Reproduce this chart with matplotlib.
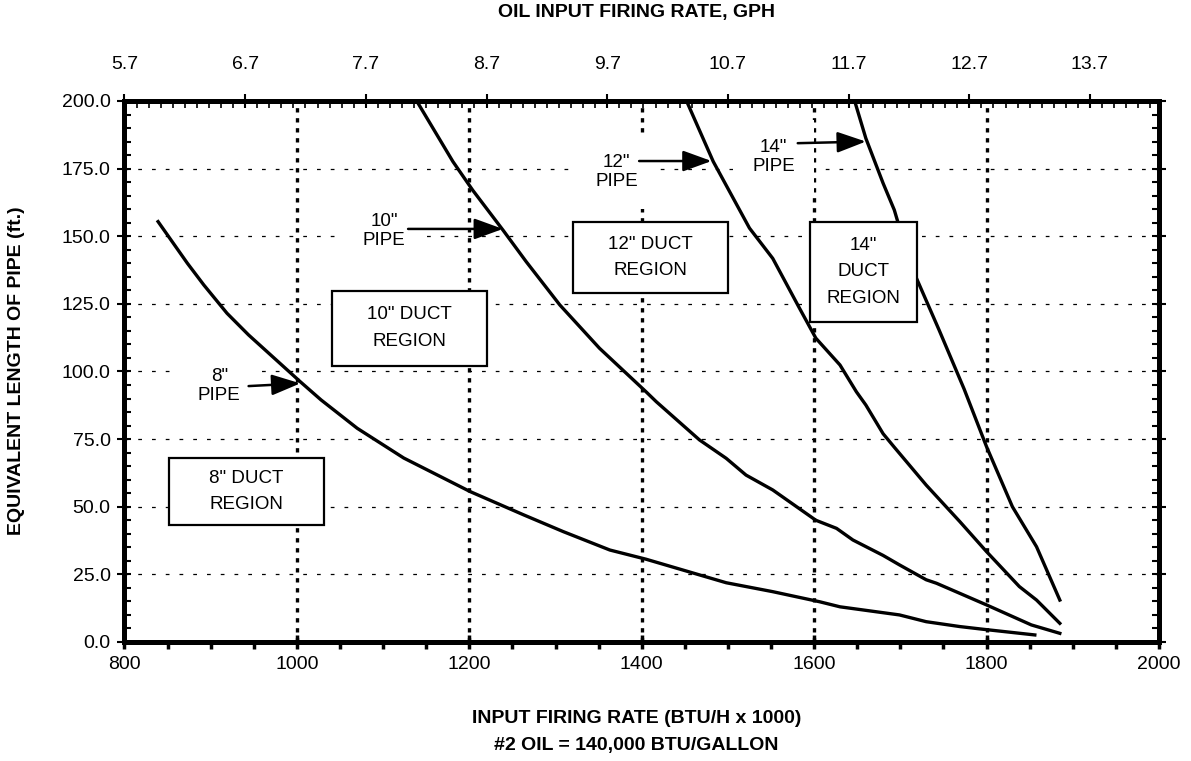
import matplotlib.pyplot as plt
from matplotlib.patches import Rectangle
from matplotlib.ticker import MultipleLocator, FixedLocator, FormatStrFormatter

plt.rcParams['font.family'] = ['Liberation Sans', 'DejaVu Sans']

# curves: input rate (BTU/h x 1000) vs equivalent pipe length (ft)
x8 = [839, 873, 892, 919, 944, 970, 1004, 1028, 1070, 1124, 1201, 1263, 1309, 1363,
      1405, 1498, 1552, 1606, 1630, 1699, 1730, 1769, 1796, 1856]
y8 = [155.4, 140, 132, 121.5, 113.5, 106, 96.2, 89.5, 79, 68, 55.6, 47, 40.8, 34,
      30.6, 21.9, 18.6, 14.9, 13, 10, 7.5, 5.7, 4.7, 2.6]

x10 = [1139, 1181, 1204, 1239, 1266, 1305, 1351, 1405, 1417, 1467, 1498, 1521, 1552,
       1602, 1626, 1645, 1680, 1699, 1730, 1742, 1800, 1852, 1885]
y10 = [200, 177.6, 167, 152.3, 140.6, 124.6, 108.6, 92.5, 88.8, 74.7, 67.9, 61.7, 56.2,
       45, 42, 37.7, 32, 28.5, 23, 21.7, 13.7, 6.3, 3.2]

x12 = [1452, 1483, 1525, 1552, 1583, 1602, 1630, 1649, 1660, 1680, 1693, 1730, 1769,
       1800, 1838, 1858, 1885]
y12 = [200, 177.6, 153, 141.8, 123.4, 112.3, 102.4, 92.5, 87.6, 77, 72, 58, 44.5,
       33.4, 20.5, 15.5, 6.9]

x14 = [1647, 1660, 1680, 1693, 1697, 1718, 1745, 1774, 1800, 1830, 1858, 1885]
y14 = [200, 186.2, 169.6, 159.7, 155.4, 135, 115.3, 93.5, 72.2, 50, 35.2, 15.5]

BTU_PER_GAL = 140  # 140,000 BTU/gallon, x axis is in 1000 BTU/h

fig = plt.figure(figsize=(11.91, 7.61), dpi=100)
ax = fig.add_axes([0.1045, 0.1564, 0.8686, 0.7109])

for xs, ys in [(x8, y8), (x10, y10), (x12, y12), (x14, y14)]:
    ax.plot(xs, ys, color='black', lw=2.4, solid_joinstyle='round', zorder=3)

ax.set_xlim(800, 2000)
ax.set_ylim(0, 200)
ax.xaxis.set_major_locator(MultipleLocator(200))
ax.xaxis.set_minor_locator(MultipleLocator(50))
ax.yaxis.set_major_locator(MultipleLocator(25))
ax.yaxis.set_minor_locator(MultipleLocator(5))
ax.yaxis.set_major_formatter(FormatStrFormatter('%.1f'))

# grid: short dashes across, heavy dots down
ax.grid(axis='y', which='major', color='black', lw=0.9, linestyle=(0, (3, 8)))
ax.grid(axis='x', which='major', color='black', lw=2.4, linestyle=(0, (1.3, 1.7)))

for s in ax.spines.values():
    s.set_linewidth(3.6)

ax.tick_params(axis='x', which='major', direction='inout', length=10, width=2.5,
               labelsize=14, pad=5)
ax.tick_params(axis='x', which='minor', direction='out', length=5, width=2.5)
ax.tick_params(axis='y', which='major', direction='inout', length=10, width=1.5,
               right=True, labelsize=14, pad=5)
ax.tick_params(axis='y', which='minor', direction='in', length=5, width=1.5, right=True)

# top axis in gallons per hour
sec = ax.secondary_xaxis('top', functions=(lambda v: v / BTU_PER_GAL, lambda g: g * BTU_PER_GAL))
g0 = 800 / BTU_PER_GAL
sec.xaxis.set_major_locator(FixedLocator([g0 + k for k in range(9)]))
sec.xaxis.set_minor_locator(FixedLocator([g0 + 0.1 * k for k in range(86)]))
sec.xaxis.set_major_formatter(FormatStrFormatter('%.1f'))
sec.tick_params(which='major', direction='inout', length=10, width=1.5, labelsize=14, pad=15)
sec.tick_params(which='minor', direction='in', length=5, width=1.2)
sec.spines['top'].set_linewidth(3.6)

# region boxes
boxes = [
    ('8" DUCT\nREGION', 851.6, 43.3, 179.7, 24.7),
    ('10" DUCT\nREGION', 1040.6, 102.0, 179.7, 27.9),
    ('12" DUCT\nREGION', 1320, 129.0, 179.7, 26.3),
    ('14"\nDUCT\nREGION', 1594.8, 118.3, 124, 37.0),
]
for label, bx, by, bw, bh in boxes:
    ax.add_patch(Rectangle((bx, by), bw, bh, facecolor='white', edgecolor='black',
                           lw=1.6, zorder=4))
    ax.text(bx + bw / 2, by + bh / 2, label, ha='center', va='center', fontsize=13.5,
            linespacing=1.75, zorder=5)

# pipe labels with arrows
pipes = [
    ('8"\nPIPE', (910, 94.5), (944, 94.6), (1004, 95.6)),
    ('10"\nPIPE', (1101, 152), (1129, 152.7), (1239, 152.7)),
    ('12"\nPIPE', (1371, 173.7), (1397, 177.8), (1481, 177.8)),
    ('14"\nPIPE', (1553, 179.4), (1581, 184.4), (1660, 185)),
]
for label, txy, tail, tip in pipes:
    ax.text(txy[0], txy[1], label, ha='center', va='center', fontsize=13.5, linespacing=1.15,
            zorder=5, bbox=dict(boxstyle='square,pad=1.0', facecolor='white', edgecolor='none'))
    ax.annotate('', xy=tip, xytext=tail, zorder=6,
                arrowprops=dict(arrowstyle='-|>,head_length=1.1,head_width=0.4',
                                color='black', lw=1.8, shrinkA=0, shrinkB=0,
                                mutation_scale=16))

fig.text(0.5343, 0.984, 'OIL INPUT FIRING RATE, GPH', ha='center', va='center',
         fontsize=14, fontweight='bold')
fig.text(0.5343, 0.0565, 'INPUT FIRING RATE (BTU/H x 1000)', ha='center', va='center',
         fontsize=14, fontweight='bold')
fig.text(0.5343, 0.021, '#2 OIL = 140,000 BTU/GALLON', ha='center', va='center',
         fontsize=14, fontweight='bold')
fig.text(0.0135, 0.5125, 'EQUIVALENT LENGTH OF PIPE (ft.)', ha='center', va='center',
         rotation=90, fontsize=14, fontweight='bold')

fig.savefig('out.png', dpi=100)
